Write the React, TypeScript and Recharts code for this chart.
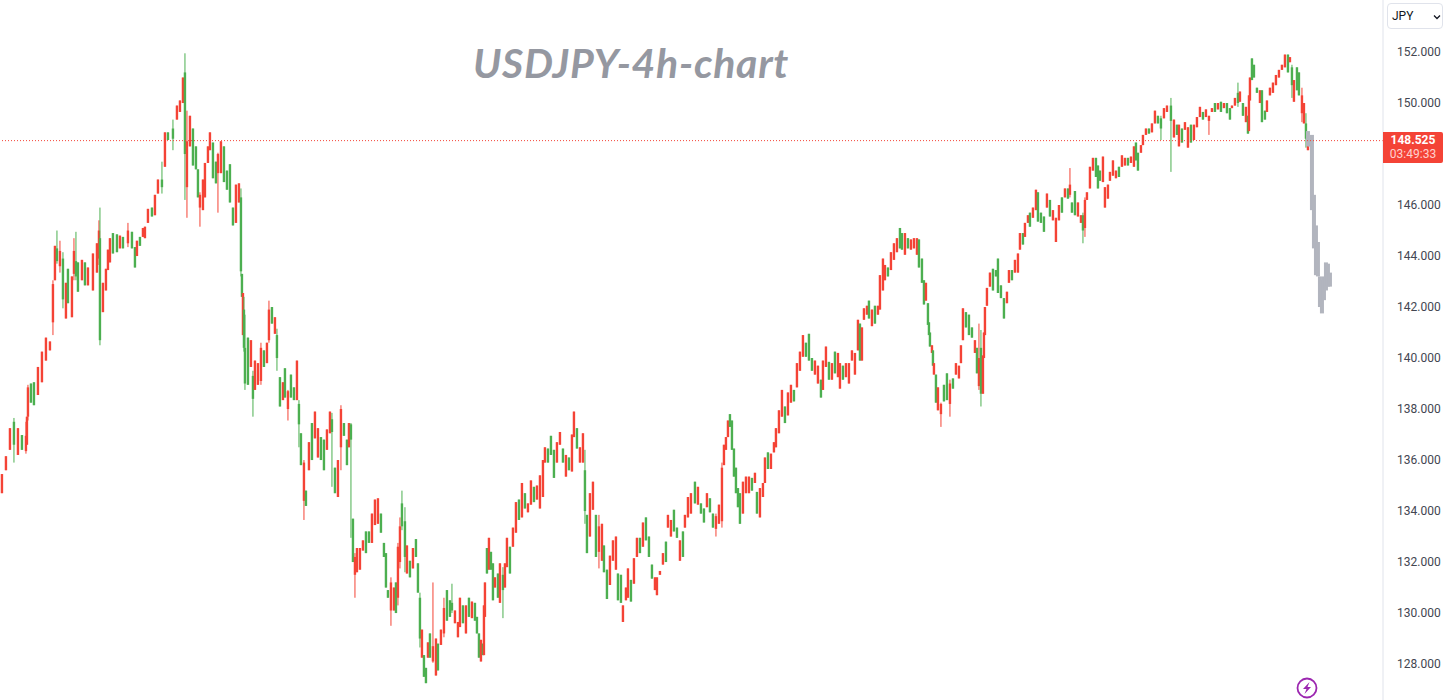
import React from 'react';
import { ComposedChart, Bar, XAxis, YAxis, ReferenceLine } from 'recharts';

// Each row: session position on the time axis, high, low, rising (1) or falling (0),
// and, where the wick is visibly longer than the body, the body's top and bottom.
type Row = (number)[];

const leg2022Rise: Row[] = [
[2,135.45,134.7,1],[6,136.15,135.6,1],[10,137.25,136.4,1],[14,137.65,135.9,0,137.5,136.6],[18,137.25,136.2,1],[22,136.98,136.4,0],[26,137.5,136.25,1,136.95,136.35],[27,137.7,136.6,1],[28,138.95,137.55,1,138.85,137.7],[31,139,138.25,0],[34,139.05,138.15,0],[38,139.65,138.55,1],[42,140.25,139.05,1],[46,140.8,139.9,1],[50,140.65,140.3,1],[53,143.05,140.9,1,142.9,141.4],[55,144.4,143.05,1],[57,145,143.7,0,144.3,143.8],[60,144.6,143.35,1,144.2,143.6],[63,144.15,141.95,0,143.9,142.3],[66,142.95,141.55,1],[68,143.5,142.15,0],[72,143.2,141.6,1],[74,144.7,143.05,1,144.2,143.3],[76,144.95,143.05,0,143.8,143.2],[78,143.75,142.6,0],[82,143.85,143.05,1],[85,143.75,142.85,0],[88,143.55,142.85,1],[93,144.1,142.65,1],[97,144.5,143.35,1],[99,145.4,143.65,1,145,143.9],[100,145.9,140.5,0,144.7,140.7],[103,142.95,141.8,1],[106,143.5,142.65,1],[108,144.25,143.45,1],[110,144.7,143.75,1],[113,144.9,144.1,0],[117,144.85,144.15,0],[120,144.8,144.3,1],[123,144.75,144.3,0],[128,145.3,144.35,1,145,144.5],[132,144.95,144.3,0],[135,144.35,143.55,0],[137,144.6,144,1],[140,144.75,144.4,0],[143,145.1,144.75,1],[145,145.15,144.7,1],[148,145.85,145.3,1],[152,145.9,145.55,0],[155,146.4,145.6,1],[158,147,146.45,1],[162,147.7,146.45,0,147,146.7],[165,148.85,147.5,1],[168,148.85,148.55,0],[173,149.35,148.15,0,149,148.6],[177,149.9,149.35,1],[180,150.1,149.65,1],[183,151,150,1],[185,151.95,146.2,0,151.2,148],[187,149.7,145.5,1,148.5,146.7]
];

const leg2022Peak: Row[] = [
[190,149.5,148.3,1],[193,149,147.55,0],[196,148.3,147.4,0],[198,147.4,146.3,0],[200,146.5,145.15,1,146.4,145.9],[203,147,145.8,1],[205,147.65,146.3,1],[208,148.3,147.65,1],[210,148.85,148.15,1],[213,148.45,147.05,0],[216,147.7,146.85,0],[218,148.05,145.7,1,148,147.25],[221,148.5,147.25,1],[224,148.3,146.9,0],[227,147.35,146.6,0],[230,147.6,146.1,0],[233,145.9,145.2,0],[236,146.8,145.3,1],[239,146.85,146.1,1],[241,146.65,143.2,0,146.3,143.4],[242,143.3,142.4,0],[243,142.55,140.9,1],[244,142.4,140.25,0,141.9,140.4],[245,141.7,138.75,0,140.4,139],[248,140.8,138.95,0],[251,140.7,139.65,1],[253,139.5,137.7,0,139.3,138.4],[255,139.9,138.75,1],[258,139.8,138.95,1],[261,140.6,138.95,1,140.4,139.1],[264,140.3,139.65,0],[267,140.6,139.8,1],[269,142.25,140.6,1,141.9,140.7],[272,142,141.35,0],[275,141.6,140.95,1],[277,141.15,139.5,0,140.9,140],[280,139.25,138.1,0],[283,139.05,138.35,1],[285,139.6,138.45,0],[288,138.75,137.55,1,138.7,138],[291,139.35,138.45,0],[294,138.85,138.35,0],[297,139.9,138.35,1],[299,138.35,136.5,0,138.2,137.4],[301,137.05,135.8,0],[304,136,133.65,1,135.9,134.4],[306,134.8,134.2,0],[309,136.7,135.6,1],[312,137.45,136,0],[315,137.9,136.85,1],[318,137.25,136.1,1],[321,136.9,136,0],[324,136.8,135.6,0],[327,137.2,136.4,1],[330,137.9,137.05,1],[332,137.85,134.95,0,137.6,137.1],[335,135.7,134.7,0],[338,136,134.55,1],[341,138.15,135.6,1,138,136.5],[344,137.45,136.95,0],[347,136.8,135.8,0],[349,137.45,136.5,1],[351,137.45,132.95,0,137.4,136.8]
];

const leg2022Slide: Row[] = [
[353,133.7,132,0],[355,132.35,130.6,1,132.2,131.5],[357,132.55,131.6,1],[360,132.55,131.7,1],[363,132.85,132.45,1],[366,133.2,132.35,0],[369,133.2,132.75,0],[372,133.9,132.75,1],[375,134.45,133.45,1],[378,134.5,133.5,1],[381,133.9,133.15,0],[384,132.75,132.2,0],[386,132.35,131,0],[388,130.9,130.6,0],[391,131.4,129.5,1,131.2,130.1],[394,131,130.1,1],[396,131.2,130,0],[398,132.75,130.3,1,132.6,130.6],[400,133.75,131.75,1,133.4,132],[402,134.8,133.25,0,134.3,133.4],[405,134.15,131.6,0,133.6,132.2],[407,132.65,131.55,1],[410,132.05,131.4,0],[413,132.55,131.75,1],[416,132.9,132.2,0],[418,131.95,130.8,0],[420,130.8,128.65,0,130.6,129],[422,129.35,128.25,1],[424,128.35,127.5,0],[426,127.85,127.25,0],[428,128.85,128.25,1],[430,129.2,128.25,0],[433,131.2,128.05,1,128.7,128.1],[436,129,127.55,1],[438,128.8,127.75,0],[441,129.35,128.75,1],[444,130.6,129.05,1,130.2,129.2],[447,130.9,129.7,0],[450,130.5,129.85,0],[452,131.15,130,0,130.4,130.1],[455,130.1,129.6,1],[458,129.65,129.05,1],[460,130.6,129.45,1],[463,130.3,129.6,0],[466,130.3,129.2,1],[469,130.6,129.85,0],[472,130.45,129.8,1],[475,130.4,129.7,0],[477,129.85,129.2,0],[479,129.2,128.25,0],[481,128.95,128.1,1],[483,128.8,128.35,0],[484,130.3,128.35,1],[485,131.2,129.85,1],[487,132.55,131.55,0],[489,132.95,131.7,1],[491,132.4,131.7,0],[493,131.95,130.5,0],[495,131.4,131,1],[498,131.55,130.6,0],[500,131.95,130.4,1],[503,131.8,129.8,0,131.5,130.9],[505,131.95,131,1]
];

const leg2023Rise: Row[] = [
[507,132.95,131.8,1],[510,132.6,131.55,0],[513,133.35,132.6,1],[516,134.35,133.15,1],[519,134.45,133.65,0],[522,135.1,133.75,1],[525,134.7,134.1,0],[528,134.3,133.95,1],[531,135.2,134.25,1],[534,134.95,134.35,0],[537,135,134.45,1],[540,135.4,134.1,1],[543,136,134.55,1],[545,136.5,135.9,1],[548,136.45,135.9,0],[551,136.95,136.2,0],[554,136.4,135.3,0],[557,136.7,135.9,1],[560,137.1,136.6,1],[563,136.45,135.9,0],[566,136.2,135.35,1],[569,136.1,135.6,0],[572,137,135.55,1],[574,137.9,136.9,1],[577,137.25,136.45,0],[580,136.5,135.9,1],[583,137.05,135.9,1],[585,136.4,133.5,0,135.6,134],[587,133.85,132.35,0],[590,134.7,133,1],[593,135.15,134.05,1],[596,133.85,132.2,0],[599,133.85,131.75,1,133.4,132.4],[602,133.5,132.05,1],[604,132.65,131.6,0],[607,131.7,130.55,0],[610,132.25,131.1,1],[613,132.85,132.05,1],[616,133,131.7,1],[618,131.55,130.5,0],[621,131.5,130.4,0],[623,130.3,129.65,1],[626,131,130.5,1],[628,131.75,130.6,1],[631,131.3,130.45,0],[634,132.15,131.15,1],[637,132.95,132.2,1],[640,132.95,132.35,0],[643,133.55,132.6,1],[646,133.75,132.85,0],[649,133,132.2,0],[652,131.9,131.35,0],[655,131.4,130.9,1],[657,131.4,130.7,1],[660,131.65,131.5,1],[663,132.35,131.9,1],[666,132.8,132,0],[668,133.85,133.35,1],[671,133.65,133,1],[674,134.05,133.2,0],[677,133.35,132.95,0],[680,132.85,132.05,1],[683,133.2,132.2,0],[685,133.85,133.35,1],[688,134.55,133.75,1],[691,134.7,133.9,1],[695,135.15,134.3,0],[698,134.95,134.25,1],[701,134.3,133.9,0],[704,134.1,133.55,0],[707,134.7,134.15,1],[710,134.5,133.95,0],[713,133.9,133.35,0],[716,133.9,133,1,133.8,133.3],[719,134.25,133.5,1],[722,135.9,133.35,1,135.7,133.6],[724,136.6,135.8,1],[726,136.9,136.4,1],[728,137.55,136.9,1],[730,137.8,137.3,0],[732,137.55,136.4,0],[734,136.45,135.35,0],[736,135.7,134.7,0],[738,134.9,134.15,0],[740,134.7,133.5,0],[743,135.15,133.9,1],[746,135.35,134.7,1],[749,135.35,134.7,1],[752,135.3,134.8,0],[755,135.5,135.1,1],[757,134.75,133.9,0],[760,134.9,133.75,1],[763,135.1,134.55,1]
];

const leg2023Climb: Row[] = [
[765,136.1,135.1,1],[768,136.3,135.65,0],[771,136.25,135.65,1],[774,136.7,136.3,1],[776,137.25,136.5,1],[779,137.95,137.05,1],[782,138.75,137.7,1],[785,138.1,137.45,0],[788,138.65,137.75,1],[791,138.95,138.25,1],[794,138.75,138.3,0],[797,139.8,138.85,1],[800,140.25,139.5,1],[803,140.9,140.05,1],[806,140.6,140.05,0],[809,140.95,139.9,0],[812,140,139.5,0],[815,139.9,139.35,1],[818,139.7,139,1],[821,139.15,138.45,0],[823,139.9,138.75,1],[826,140.45,139.65,1],[829,139.85,139.15,0],[832,139.8,139.15,1],[835,140.25,139.4,0],[838,140.2,139.25,1],[840,139.8,138.8,1],[843,139.7,139.15,0],[846,139.8,139.25,1],[849,139.8,139,1],[852,140.3,139.9,1],[855,140.2,139.35,1],[858,141.5,140.3,1],[860,141.35,139.9,0],[862,141.2,139.9,1],[864,141.95,141.5,1],[867,142.05,141.7,1],[869,142.25,141.55,0],[872,141.9,141.25,1],[875,142.05,141.35,0],[878,142.05,141.7,1],[880,143.25,141.9,1],[883,143.9,142.65,1],[885,143.65,143.05,1],[888,143.55,143.2,0],[891,144.15,143.45,1],[894,144.5,143.85,1],[897,144.7,144.15,1],[900,145.1,144.3,0],[902,144.9,144.25,0],[905,144.9,144.05,1],[908,144.7,144.3,0],[911,144.65,144.25,1],[914,144.7,144.3,1],[917,144.7,144.05,1],[919,144.65,143.55,0],[922,143.9,142.95,0],[924,143.05,142.1,0],[926,142.95,142.25,1],[928,142.15,141.3,0],[929,141.4,140.9,0],[930,141,140.45,0],[932,140.5,140.2,1],[933,140.3,139.7,0],[934,139.8,139.35,1],[936,139.35,138.25,0],[938,138.85,137.95,1],[941,138.25,137.3,1,138.2,137.8],[944,138.95,138.3,0],[947,139.4,138.35,0],[950,139.15,137.7,1,139,138.2],[953,139.2,138.8,0],[956,139.8,139.35,1],[959,139.7,139.2,1],[961,140.5,139.8,1],[963,141.95,140.7,1],[966,141.8,141.2,0],[969,141.7,140.9,0],[972,141.2,140.8,0],[975,140.7,140.2,1],[977,140.4,139.4,0],[979,141.35,138.75,1,140,138.9],[981,141.1,138.1,0,140.4,138.6],[983,140.1,138.6,1],[984,141,140,1],[985,142,140.9,1],[987,142.75,142.05,1]
];

const leg2024Rise: Row[] = [
[990,143.35,142.8,1],[993,143.5,142.65,0],[996,143.45,143.2,0],[998,143.9,142.55,0],[1001,142.85,142.35,0],[1004,142.35,141.55,0],[1007,142.6,142.15,1],[1009,143.45,142.95,1],[1012,143.45,143.05,0],[1015,143.85,143.35,1],[1018,144.1,143.35,1],[1020,144.9,144.25,1],[1023,144.9,144.45,0],[1025,145.3,144.75,1],[1028,145.6,145.3,1],[1030,145.7,145.15,0],[1033,145.9,145.5,1],[1036,146.6,145.8,1],[1038,146.5,145.35,0],[1041,145.7,145.3,0],[1044,145.55,144.95,0],[1047,146.45,145.9,1],[1050,146.2,145.55,0],[1053,145.8,145.4,1],[1056,145.5,144.55,1],[1059,146,145.4,1],[1062,146.3,145.7,0],[1065,146.65,146.3,1],[1068,146.65,146.25,0],[1070,147.45,146.3,1,146.8,146.4],[1072,146.1,145.7,0],[1075,146.55,145.6,0],[1078,146.1,145.55,1],[1081,145.6,145.3,1],[1083,145.7,144.5,0,145.6,145],[1085,146.3,144.75,1,146.2,145.1],[1087,146.5,146.2,1],[1090,147.5,146.65,1],[1093,147.85,147.35,1],[1096,147.85,147.1,0],[1098,147.55,146.65,0],[1100,147.35,146.95,0],[1103,147.9,146.9,1],[1105,146.7,145.9,1],[1108,146.8,146.25,1],[1110,147.3,146.95,1],[1113,147.75,147.15,1],[1116,147.35,147.05,1],[1119,147.5,147.1,0],[1122,147.95,147.5,1],[1125,147.85,147.55,1],[1128,147.85,147.55,0],[1131,147.9,147.65,1],[1134,148.3,147.5,1],[1136,148.45,147.75,0],[1138,148.05,147.35,0],[1141,148.35,148.05,1],[1143,148.75,148.35,1],[1146,149,148.75,1],[1149,149,148.8,0],[1152,149.2,148.85,1],[1155,149.7,149.2,1],[1158,149.5,149.2,0],[1161,149.5,148.55,0,149.4,149],[1164,149.8,149.4,1],[1167,149.9,149.65,1],[1171,150.2,147.3,0,149.9,149.3]
];

const leg2024Top: Row[] = [
[1174,149.35,148.65,1],[1177,149.15,148.75,0],[1179,149.15,148.3,1],[1182,149,148.45,0],[1185,149.25,148.95,1],[1188,149.05,148.25,1],[1191,149.15,148.45,0],[1194,149.15,148.55,1],[1197,149.45,149.05,1],[1200,149.85,149.45,1],[1203,149.65,149.35,0],[1206,149.75,149.45,1],[1209,149.5,148.75,1,149.5,149.3],[1212,149.8,149.65,1],[1215,150,149.65,0],[1218,150,149.75,1],[1221,150.05,149.65,0],[1224,150,149.8,1],[1227,150,149.6,0],[1230,149.8,149.35,0],[1232,149.9,149.8,1],[1235,150.2,149.9,1],[1238,150.8,149.85,0,150.4,150],[1240,150.45,150.05,1],[1243,150,149.5,0],[1246,149.85,149.25,1],[1248,149.5,148.8,0],[1249,150.3,148.9,1],[1250,151,150.1,1],[1252,151.75,150.9,0],[1254,151.5,151,0],[1257,150.6,150.4,0],[1260,150.5,150,1],[1262,150.5,149.25,0],[1265,149.7,149.35,0],[1267,150.1,149.65,1],[1270,150.6,150.3,1],[1273,150.8,150.4,1],[1276,151.1,150.7,1],[1279,151.3,151,1],[1282,151.5,151.3,1],[1285,151.9,151.4,1],[1288,151.9,151.2,0],[1290,151.8,151.6,1],[1292,151.5,150.2,0,151.4,150.7],[1294,150.9,150.05,1],[1297,151.4,150.5,0],[1299,151.2,150.3,0],[1302,150.6,149.25,1,150.3,149.6],[1304,150,149.2,1],[1306,149.6,148.25,0,149.2,148.6],[1308,148.55,148.15,1]
];

// Grey bars pattern projected after the last candle.
const projectedBars: Row[] = [
[1308,148.9,148.3,0],[1310,148.55,148.3,0],[1312,148.75,145.8,0],[1314,146.4,144.3,0],[1316,145.2,143.25,0],[1318,144.55,143.2,0],[1320,143.2,142,0],[1322,143.05,141.75,0],[1324,143.2,142.27,1],[1326,143.75,142.65,1],[1328,143.7,142.8,1],[1330,143.35,142.8,0]
];

// 148.000 sits behind the last-price tag in the picture, so it is not listed.
const priceTicks = [128,130,132,134,136,138,140,142,144,146,150,152];
const lastPrice = 148.525;
const countdown = '03:49:33';
const title = 'USDJPY-4h-chart';
const quoteCurrency = 'JPY';

const UP = '#f44336';
const DOWN = '#4caf50';
const GREY = '#b2b5be';

const toCandle = (projected: boolean) => (r: Row) => {
  const [t, high, low, up, top = high, bottom = low] = r;
  return { t, high, low, open: up ? bottom : top, close: up ? top : bottom, projected, range: [low, high] };
};

const data = [
  ...[leg2022Rise, leg2022Peak, leg2022Slide, leg2023Rise, leg2023Climb, leg2024Rise, leg2024Top].flat().map(toCandle(false)),
  ...projectedBars.map(toCandle(true)),
];

const Candle = (props: any) => {
  const { x, y, width, height, payload } = props;
  if (!payload) return null;
  const { high, low, open, close, projected } = payload;
  const h = Math.abs(height);
  const k = h / Math.max(high - low, 1e-6);
  const cx = x + width / 2;
  const color = projected ? GREY : close >= open ? UP : DOWN;
  const top = y + (high - Math.max(open, close)) * k;
  const bh = Math.max(Math.abs(open - close) * k, 1);
  if (projected) return <rect x={cx - 2} y={y} width={4} height={h} fill={color} />;
  return (
    <g>
      <rect x={cx - 0.5} y={y} width={1} height={h} fill={color} />
      <rect x={cx - 1.2} y={top} width={2.4} height={bh} fill={color} />
    </g>
  );
};

export default function App() {
  return (
    <div style={{ position: 'absolute', left: 0, top: 0, width: 1447, height: 700, background: '#fff', overflow: 'hidden', fontFamily: 'Roboto, sans-serif' }}>
      <ComposedChart width={1447} height={700} data={data} margin={{ top: 0, right: 0, bottom: 0, left: 0 }}>
        <XAxis dataKey="t" type="number" domain={[0, 1383]} hide padding={{ left: 0, right: 0 }} />
        <YAxis
          orientation="right"
          width={64}
          domain={[126.59, 154.04]}
          ticks={priceTicks}
          interval={0}
          tickLine={false}
          tickMargin={8}
          axisLine={{ stroke: '#e0e3eb' }}
          tickFormatter={(v: number) => v.toFixed(3)}
          tick={{ fontSize: 12, fill: '#434651', fontFamily: 'Roboto, sans-serif' }}
        />
        <ReferenceLine y={lastPrice} stroke={UP} strokeWidth={1} strokeDasharray="1 2" />
        <Bar dataKey="range" barSize={3} isAnimationActive={false} shape={<Candle />} />
      </ComposedChart>

      <div style={{ position: 'absolute', left: 473, top: 40, fontFamily: 'Lato, sans-serif', fontWeight: 700, fontStyle: 'italic', fontSize: 41, lineHeight: '46px', letterSpacing: 0.7, color: '#9598a1', whiteSpace: 'nowrap' }}>{title}</div>

      <div style={{ position: 'absolute', left: 1383, top: 132, width: 60, height: 31, background: UP, borderRadius: '0 2px 2px 0', fontSize: 12, color: '#fff' }}>
        <div style={{ position: 'absolute', left: 0, width: 60, top: 2, textAlign: 'center', lineHeight: '13px', fontWeight: 700 }}>{lastPrice.toFixed(3)}</div>
        <div style={{ position: 'absolute', left: 0, width: 60, top: 16, textAlign: 'center', lineHeight: '13px', color: '#ffd2cf' }}>{countdown}</div>
      </div>

      <div style={{ position: 'absolute', left: 1387, top: 3, width: 54, height: 24, border: '1px solid #e0e3eb', borderRadius: 4, fontSize: 12, lineHeight: '24px', color: '#131722', boxSizing: 'content-box' }}>
        <span style={{ marginLeft: 4 }}>{quoteCurrency}</span>
        <svg width="8" height="6" viewBox="0 0 8 6" style={{ position: 'absolute', left: 45, top: 10 }}>
          <path d="M1 1.5 L4 4.5 L7 1.5" fill="none" stroke="#131722" strokeWidth="1.3" />
        </svg>
      </div>

      <svg width="24" height="24" viewBox="0 0 24 24" style={{ position: 'absolute', left: 1295, top: 676 }}>
        <circle cx="12" cy="12" r="9.5" fill="none" stroke="#9c27b0" strokeWidth="1.8" />
        <path d="M14.5 6 L8 13 L11.5 13 L9.5 18 L16 11 L12.5 11 Z" fill="#9c27b0" />
      </svg>
    </div>
  );
}
